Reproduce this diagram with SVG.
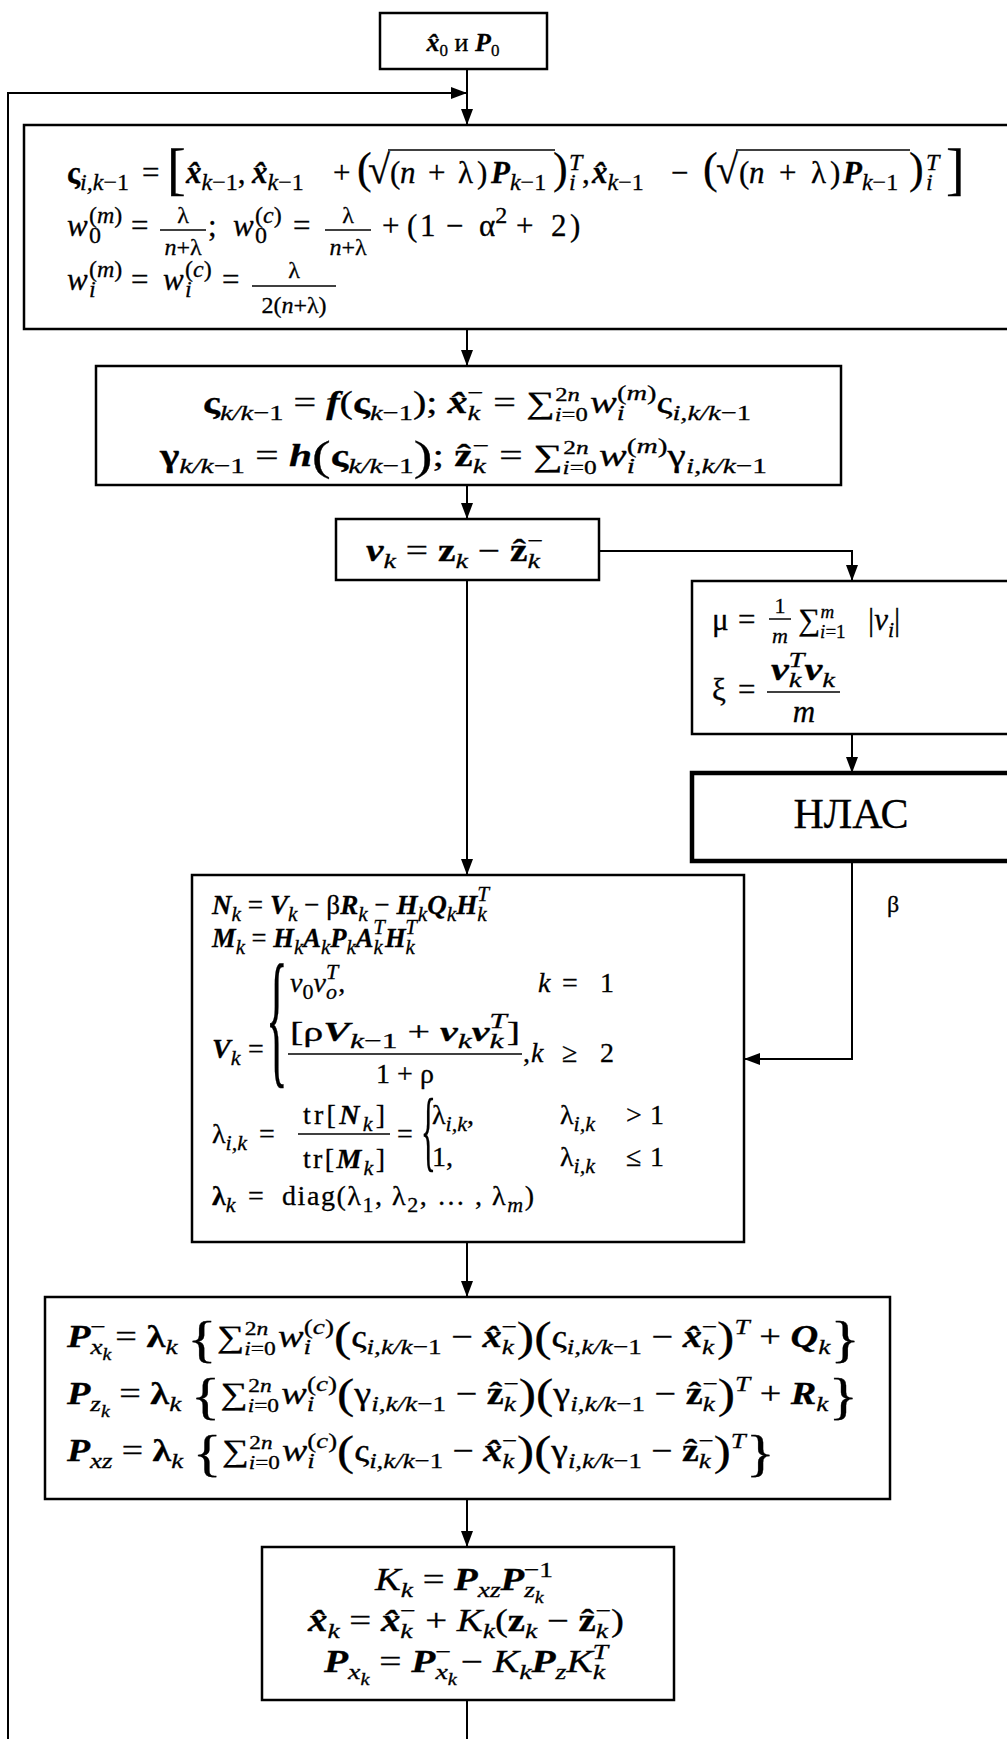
<svg xmlns="http://www.w3.org/2000/svg" width="1007" height="1739" viewBox="0 0 1007 1739">
<defs>
<style>
text{font-family:'Liberation Serif','DejaVu Serif',serif;font-size:31px;fill:#000;stroke:#000;stroke-width:0.3px}
#n6 text{font-size:28px}
.i{font-style:italic}
.b{font-style:italic;font-weight:bold}
.B{font-weight:bold}
.d{font-size:22px;baseline-shift:-7px}
.u{font-size:22px;baseline-shift:13px}
#n1 .d{font-size:24px}
#n1 .u{font-size:24px}
.dd{font-size:16px;baseline-shift:-13px}
.ld{font-size:19px;baseline-shift:-8px}
.lu{font-size:19px;baseline-shift:12px}
.f{font-size:22px}
#n1 .f{font-size:24px}
.P{font-size:42px;baseline-shift:-4px}
.C{font-size:50px;baseline-shift:-9px}
.bx{fill:#fff;stroke:#000;stroke-width:2.5}
.th{fill:#fff;stroke:#000;stroke-width:4.5}
.ln{fill:none;stroke:#000;stroke-width:2}
.fr{stroke:#000;stroke-width:1.5}
</style>
<marker id="ah" viewBox="0 0 16 12" markerWidth="16" markerHeight="12" refX="16" refY="6" orient="auto" markerUnits="userSpaceOnUse"><path d="M0,0 L16,6 L0,12 z" fill="#000"/></marker>
</defs>
<rect width="1007" height="1739" fill="#fff"/>

<g id="connectors" class="ln">
<line x1="467" y1="69" x2="467" y2="125" marker-end="url(#ah)"/>
<path d="M8,1739 V93 H467" marker-end="url(#ah)"/>
<line x1="467" y1="329" x2="467" y2="366" marker-end="url(#ah)"/>
<line x1="467" y1="485" x2="467" y2="519" marker-end="url(#ah)"/>
<path d="M599,551 H852 V581" marker-end="url(#ah)"/>
<line x1="467" y1="580" x2="467" y2="875" marker-end="url(#ah)"/>
<line x1="852" y1="734" x2="852" y2="773" marker-end="url(#ah)"/>
<path d="M852,861 V1059 H744" marker-end="url(#ah)"/>
<line x1="467" y1="1242" x2="467" y2="1297" marker-end="url(#ah)"/>
<line x1="467" y1="1499" x2="467" y2="1547" marker-end="url(#ah)"/>
<line x1="467" y1="1700" x2="467" y2="1739"/>
<text x="887" y="912" style="font-size:24px">β</text>
</g>

<g id="n0">
<rect class="bx" x="380" y="13" width="167" height="56"/>
<text x="463" y="51" text-anchor="middle" style="font-size:26px"><tspan class="b">x&#x302;</tspan><tspan style="font-size:17px;baseline-shift:-5px">0</tspan> и <tspan class="b">P</tspan><tspan style="font-size:17px;baseline-shift:-5px">0</tspan></text>
</g>

<g id="n1">
<rect class="bx" x="24" y="125" width="992" height="204"/>
<text y="183"><tspan x="67" class="B">ς</tspan><tspan class="d i">i,k</tspan><tspan class="d">−1</tspan><tspan x="142">=</tspan><tspan x="167" style="font-size:56px;baseline-shift:-5px">[</tspan><tspan x="186" class="b">x&#x302;</tspan><tspan class="d i">k</tspan><tspan class="d">−1</tspan>,<tspan x="252" class="b">x&#x302;</tspan><tspan class="d i">k</tspan><tspan class="d">−1</tspan><tspan x="333">+</tspan><tspan x="357" style="font-size:44px">(</tspan><tspan x="368" style="font-size:40px">√</tspan><tspan x="390">(</tspan><tspan x="400" class="i">n</tspan><tspan x="428">+</tspan><tspan x="458">λ</tspan><tspan x="477">)</tspan><tspan x="491" class="b">P</tspan><tspan class="d i">k</tspan><tspan class="d">−1</tspan><tspan x="553" style="font-size:44px">)</tspan><tspan x="569" class="u i">T</tspan><tspan x="569" class="d i">i</tspan><tspan x="582">,</tspan><tspan x="592" class="b">x&#x302;</tspan><tspan class="d i">k</tspan><tspan class="d">−1</tspan><tspan x="671">−</tspan><tspan x="703" style="font-size:44px">(</tspan><tspan x="716" style="font-size:40px">√</tspan><tspan x="739">(</tspan><tspan x="749" class="i">n</tspan><tspan x="779">+</tspan><tspan x="811">λ</tspan><tspan x="830">)</tspan><tspan x="843" class="b">P</tspan><tspan class="d i">k</tspan><tspan class="d">−1</tspan><tspan x="909" style="font-size:44px">)</tspan><tspan x="926" class="u i">T</tspan><tspan x="926" class="d i">i</tspan><tspan x="946" style="font-size:56px;baseline-shift:-5px">]</tspan></text>
<line class="fr" x1="388" y1="150" x2="555" y2="150"/>
<line class="fr" x1="736" y1="150" x2="910" y2="150"/>
<text y="236"><tspan x="67" class="i">w</tspan><tspan x="89" class="d">0</tspan><tspan x="89" class="u">(<tspan class="i">m</tspan>)</tspan><tspan x="131">=</tspan><tspan x="208">;</tspan><tspan x="233" class="i">w</tspan><tspan x="255" class="d">0</tspan><tspan x="255" class="u">(<tspan class="i">c</tspan>)</tspan><tspan x="293">=</tspan><tspan x="382">+</tspan><tspan x="407">(</tspan><tspan x="420">1</tspan><tspan x="446">−</tspan><tspan x="479">α</tspan><tspan class="u">2</tspan><tspan x="516">+</tspan><tspan x="551">2</tspan><tspan x="570">)</tspan></text>
<text x="183" y="223" class="f" text-anchor="middle">λ</text>
<line class="fr" x1="160" y1="230" x2="206" y2="230"/>
<text x="183" y="255" class="f" text-anchor="middle"><tspan class="i">n</tspan>+λ</text>
<text x="348" y="223" class="f" text-anchor="middle">λ</text>
<line class="fr" x1="325" y1="230" x2="371" y2="230"/>
<text x="348" y="255" class="f" text-anchor="middle"><tspan class="i">n</tspan>+λ</text>
<text y="290"><tspan x="67" class="i">w</tspan><tspan x="89" class="d i">i</tspan><tspan x="89" class="u">(<tspan class="i">m</tspan>)</tspan><tspan x="131">=</tspan><tspan x="163" class="i">w</tspan><tspan x="185" class="d i">i</tspan><tspan x="185" class="u">(<tspan class="i">c</tspan>)</tspan><tspan x="222">=</tspan></text>
<text x="294" y="278" class="f" text-anchor="middle">λ</text>
<line class="fr" x1="252" y1="286" x2="336" y2="286"/>
<text x="294" y="313" class="f" text-anchor="middle">2(<tspan class="i">n</tspan>+λ)</text>
</g>

<g id="n2">
<rect class="bx" x="96" y="366" width="745" height="119"/>
<text x="203" y="413" textLength="548" lengthAdjust="spacingAndGlyphs"><tspan class="B">ς</tspan><tspan class="d i">k/k</tspan><tspan class="d">−1</tspan> = <tspan class="b">f</tspan>(<tspan class="B">ς</tspan><tspan class="d i">k</tspan><tspan class="d">−1</tspan>); <tspan class="b">x&#x302;</tspan><tspan class="d i">k</tspan><tspan class="u" dx="-10">−</tspan> = ∑<tspan class="ld i">i</tspan><tspan class="ld">=0</tspan><tspan class="lu" dx="-25">2<tspan class="i">n</tspan></tspan> <tspan class="i">w</tspan><tspan class="d i">i</tspan><tspan class="u" dx="-6">(<tspan class="i">m</tspan>)</tspan>ς<tspan class="d i">i,k/k</tspan><tspan class="d">−1</tspan></text>
<text x="160" y="466" textLength="607" lengthAdjust="spacingAndGlyphs"><tspan class="B">γ</tspan><tspan class="d i">k/k</tspan><tspan class="d">−1</tspan> = <tspan class="b">h</tspan><tspan class="P">(</tspan><tspan class="B">ς</tspan><tspan class="d i">k/k</tspan><tspan class="d">−1</tspan><tspan class="P">)</tspan>; <tspan class="B">z&#x302;</tspan><tspan class="d i">k</tspan><tspan class="u" dx="-10">−</tspan> = ∑<tspan class="ld i">i</tspan><tspan class="ld">=0</tspan><tspan class="lu" dx="-25">2<tspan class="i">n</tspan></tspan> <tspan class="i">w</tspan><tspan class="d i">i</tspan><tspan class="u" dx="-6">(<tspan class="i">m</tspan>)</tspan>γ<tspan class="d i">i,k/k</tspan><tspan class="d">−1</tspan></text>
</g>

<g id="n3">
<rect class="bx" x="336" y="519" width="263" height="61"/>
<text x="366" y="561" textLength="177" lengthAdjust="spacingAndGlyphs"><tspan class="b">ν</tspan><tspan class="d i">k</tspan> = <tspan class="B">z</tspan><tspan class="d i">k</tspan> − <tspan class="B">z&#x302;</tspan><tspan class="d i">k</tspan><tspan class="u" dx="-10">−</tspan></text>
</g>

<g id="n4">
<rect class="bx" x="692" y="581" width="322" height="153"/>
<text x="712" y="630">μ</text>
<text x="738" y="630">=</text>
<text x="780" y="613" class="f" text-anchor="middle">1</text>
<line class="fr" x1="769" y1="619" x2="791" y2="619"/>
<text x="780" y="643" class="f i" text-anchor="middle">m</text>
<text x="798" y="630">∑<tspan class="ld i">i</tspan><tspan class="ld">=1</tspan><tspan class="lu i" dx="-25">m</tspan><tspan x="868">|</tspan><tspan class="i">v</tspan><tspan class="d i">i</tspan>|</text>
<text x="712" y="700">ξ</text>
<text x="738" y="700">=</text>
<text x="771" y="680" textLength="64" lengthAdjust="spacingAndGlyphs"><tspan class="b">v</tspan><tspan class="d i">k</tspan><tspan class="u i" dx="-10">T</tspan><tspan class="b">v</tspan><tspan class="d i">k</tspan></text>
<line class="fr" x1="767" y1="692" x2="840" y2="692"/>
<text x="804" y="722" class="i" text-anchor="middle">m</text>
</g>

<g id="n5">
<rect class="th" x="692" y="773" width="322" height="88"/>
<text x="851" y="828" text-anchor="middle" style="font-size:42px">НЛАС</text>
</g>

<g id="n6">
<rect class="bx" x="192" y="875" width="552" height="367"/>
<text x="212" y="914" textLength="277" lengthAdjust="spacingAndGlyphs"><tspan class="b">N</tspan><tspan class="d i">k</tspan> = <tspan class="b">V</tspan><tspan class="d i">k</tspan> − β<tspan class="b">R</tspan><tspan class="d i">k</tspan> − <tspan class="b">H</tspan><tspan class="d i">k</tspan><tspan class="b">Q</tspan><tspan class="d i">k</tspan><tspan class="b">H</tspan><tspan class="d i">k</tspan><tspan class="u i" dx="-10">T</tspan></text>
<text x="212" y="947" textLength="205" lengthAdjust="spacingAndGlyphs"><tspan class="b">M</tspan><tspan class="d i">k</tspan> = <tspan class="b">H</tspan><tspan class="d i">k</tspan><tspan class="b">A</tspan><tspan class="d i">k</tspan><tspan class="b">P</tspan><tspan class="d i">k</tspan><tspan class="b">A</tspan><tspan class="d i">k</tspan><tspan class="u i" dx="-10">T</tspan><tspan class="b">H</tspan><tspan class="d i">k</tspan><tspan class="u i" dx="-10">T</tspan></text>
<text transform="translate(266,1068) scale(0.3,1)" style="font-size:150px;stroke-width:0.6px">{</text>
<text x="290" y="992"><tspan class="i">ν</tspan><tspan class="d">0</tspan><tspan class="i">ν</tspan><tspan class="d i">o</tspan><tspan class="u i" dx="-11">T</tspan>,</text>
<text y="992"><tspan x="538" class="i">k</tspan><tspan x="562">=</tspan><tspan x="600">1</tspan></text>
<text x="212" y="1058"><tspan class="b">V</tspan><tspan class="d i">k</tspan></text>
<text x="248" y="1058">=</text>
<text x="290" y="1041" textLength="230" lengthAdjust="spacingAndGlyphs">[ρ<tspan class="b">V</tspan><tspan class="d i">k</tspan><tspan class="d">−1</tspan> + <tspan class="b">ν</tspan><tspan class="d i">k</tspan><tspan class="b">ν</tspan><tspan class="d i">k</tspan><tspan class="u i" dx="-10">T</tspan>]</text>
<line class="fr" x1="288" y1="1054" x2="522" y2="1054"/>
<text x="405" y="1083" text-anchor="middle">1 + ρ</text>
<text y="1062"><tspan x="523">,</tspan><tspan x="531" class="i">k</tspan><tspan x="562">≥</tspan><tspan x="600">2</tspan></text>
<text x="212" y="1143">λ<tspan class="d i">i,k</tspan></text>
<text x="259" y="1143">=</text>
<text x="344" y="1124" text-anchor="middle" textLength="82" lengthAdjust="spacing">tr[<tspan class="b">N</tspan><tspan class="d i">k</tspan>]</text>
<line class="fr" x1="298" y1="1134" x2="390" y2="1134"/>
<text x="344" y="1168" text-anchor="middle" textLength="82" lengthAdjust="spacing">tr[<tspan class="b">M</tspan><tspan class="d i">k</tspan>]</text>
<text x="397" y="1143">=</text>
<text transform="translate(421,1160) scale(0.35,1)" style="font-size:88px;stroke-width:0.5px">{</text>
<text x="432" y="1124">λ<tspan class="d i">i,k</tspan>,</text>
<text x="432" y="1166">1,</text>
<text y="1124"><tspan x="560">λ</tspan><tspan class="d i">i,k</tspan><tspan x="626">&gt;</tspan><tspan x="650">1</tspan></text>
<text y="1166"><tspan x="560">λ</tspan><tspan class="d i">i,k</tspan><tspan x="626">≤</tspan><tspan x="650">1</tspan></text>
<text x="212" y="1205"><tspan class="B">λ</tspan><tspan class="d i">k</tspan></text>
<text x="248" y="1205">=</text>
<text x="282" y="1205" textLength="252" lengthAdjust="spacing">diag(λ<tspan class="d">1</tspan>, λ<tspan class="d">2</tspan>, … , λ<tspan class="d i">m</tspan>)</text>
</g>

<g id="n7">
<rect class="bx" x="45" y="1297" width="845" height="202"/>
<text x="67" y="1347" textLength="793" lengthAdjust="spacingAndGlyphs"><tspan class="b">P</tspan><tspan class="d i">x</tspan><tspan class="dd i">k</tspan><tspan class="u" dx="-17">−</tspan> = <tspan class="B">λ</tspan><tspan class="d i">k</tspan> <tspan class="C">{</tspan>∑<tspan class="ld i">i</tspan><tspan class="ld">=0</tspan><tspan class="lu" dx="-25">2<tspan class="i">n</tspan></tspan> <tspan class="i">w</tspan><tspan class="d i">i</tspan><tspan class="u" dx="-6">(<tspan class="i">c</tspan>)</tspan><tspan class="P">(</tspan>ς<tspan class="d i">i,k/k</tspan><tspan class="d">−1</tspan>  − <tspan class="b">x&#x302;</tspan><tspan class="d i">k</tspan><tspan class="u" dx="-10">−</tspan><tspan class="P">)(</tspan>ς<tspan class="d i">i,k/k</tspan><tspan class="d">−1</tspan> − <tspan class="b">x&#x302;</tspan><tspan class="d i">k</tspan><tspan class="u" dx="-10">−</tspan><tspan class="P">)</tspan><tspan class="u i">T</tspan> + <tspan class="b">Q</tspan><tspan class="d i">k</tspan><tspan class="C">}</tspan></text>
<text x="67" y="1404" textLength="791" lengthAdjust="spacingAndGlyphs"><tspan class="b">P</tspan><tspan class="d i">z</tspan><tspan class="dd i">k</tspan> = <tspan class="B">λ</tspan><tspan class="d i">k</tspan> <tspan class="C">{</tspan>∑<tspan class="ld i">i</tspan><tspan class="ld">=0</tspan><tspan class="lu" dx="-25">2<tspan class="i">n</tspan></tspan> <tspan class="i">w</tspan><tspan class="d i">i</tspan><tspan class="u" dx="-6">(<tspan class="i">c</tspan>)</tspan><tspan class="P">(</tspan>γ<tspan class="d i">i,k/k</tspan><tspan class="d">−1</tspan> − <tspan class="B">z&#x302;</tspan><tspan class="d i">k</tspan><tspan class="u" dx="-10">−</tspan><tspan class="P">)(</tspan>γ<tspan class="d i">i,k/k</tspan><tspan class="d">−1</tspan> − <tspan class="B">z&#x302;</tspan><tspan class="d i">k</tspan><tspan class="u" dx="-10">−</tspan><tspan class="P">)</tspan><tspan class="u i">T</tspan> + <tspan class="b">R</tspan><tspan class="d i">k</tspan><tspan class="C">}</tspan></text>
<text x="67" y="1461" textLength="708" lengthAdjust="spacingAndGlyphs"><tspan class="b">P</tspan><tspan class="d i">xz</tspan> = <tspan class="B">λ</tspan><tspan class="d i">k</tspan> <tspan class="C">{</tspan>∑<tspan class="ld i">i</tspan><tspan class="ld">=0</tspan><tspan class="lu" dx="-25">2<tspan class="i">n</tspan></tspan> <tspan class="i">w</tspan><tspan class="d i">i</tspan><tspan class="u" dx="-6">(<tspan class="i">c</tspan>)</tspan><tspan class="P">(</tspan>ς<tspan class="d i">i,k/k</tspan><tspan class="d">−1</tspan> − <tspan class="b">x&#x302;</tspan><tspan class="d i">k</tspan><tspan class="u" dx="-10">−</tspan><tspan class="P">)(</tspan>γ<tspan class="d i">i,k/k</tspan><tspan class="d">−1</tspan> − <tspan class="B">z&#x302;</tspan><tspan class="d i">k</tspan><tspan class="u" dx="-10">−</tspan><tspan class="P">)</tspan><tspan class="u i">T</tspan><tspan class="C">}</tspan></text>
</g>

<g id="n8">
<rect class="bx" x="262" y="1547" width="412" height="153"/>
<text x="375" y="1590" textLength="178" lengthAdjust="spacingAndGlyphs"><tspan class="i">K</tspan><tspan class="d i">k</tspan> = <tspan class="b">P</tspan><tspan class="d i">xz</tspan><tspan class="b">P</tspan><tspan class="d i">z</tspan><tspan class="dd i">k</tspan><tspan class="u" dx="-16">−1</tspan></text>
<text x="308" y="1631" textLength="316" lengthAdjust="spacingAndGlyphs"><tspan class="b">x&#x302;</tspan><tspan class="d i">k</tspan> = <tspan class="b">x&#x302;</tspan><tspan class="d i">k</tspan><tspan class="u" dx="-10">−</tspan> + <tspan class="i">K</tspan><tspan class="d i">k</tspan>(<tspan class="B">z</tspan><tspan class="d i">k</tspan> − <tspan class="B">z&#x302;</tspan><tspan class="d i">k</tspan><tspan class="u" dx="-10">−</tspan>)</text>
<text x="324" y="1672" textLength="284" lengthAdjust="spacingAndGlyphs"><tspan class="b">P</tspan><tspan class="d i">x</tspan><tspan class="dd i">k</tspan> = <tspan class="b">P</tspan><tspan class="d i">x</tspan><tspan class="dd i">k</tspan><tspan class="u" dx="-17">−</tspan> − <tspan class="i">K</tspan><tspan class="d i">k</tspan><tspan class="b">P</tspan><tspan class="d i">z</tspan><tspan class="i">K</tspan><tspan class="d i">k</tspan><tspan class="u i" dx="-10">T</tspan></text>
</g>
</svg>
